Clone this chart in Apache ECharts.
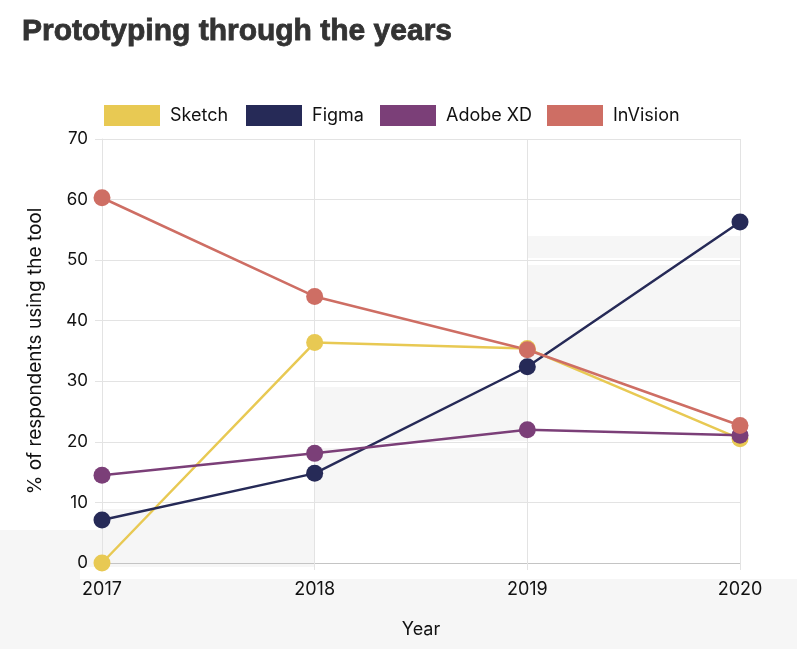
<!DOCTYPE html>
<html>
<head>
<meta charset="utf-8">
<script src="https://cdn.jsdelivr.net/npm/echarts@6/dist/echarts.min.js"></script>
<style>
html,body{margin:0;padding:0;background:#fff;}
#chart{width:797px;height:649px;}
</style>
</head>
<body>
<div id="chart"></div>
<script>
const years = ['2017', '2018', '2019', '2020'];
const seriesNames = ['Sketch', 'Figma', 'Adobe XD', 'InVision'];
const sketch = [0, 36.4, 35.4, 20.5];
const figma = [7.1, 14.8, 32.4, 56.3];
const adobeXD = [14.5, 18.1, 22.0, 21.1];
const invision = [60.3, 44.0, 35.2, 22.7];
const yTicks = [0, 10, 20, 30, 40, 50, 60, 70];

const FONT = 'Inter';
const GRAY = '#f6f6f6';
const COLORS = ['#E8C953', '#262A57', '#7B3F78', '#CE6E64'];
const legendLefts = [104, 246, 380, 547];

// decorative background staircase (not data)
const bgRects = [
  [0, 579, 797, 70],
  [0, 530, 100, 37],
  [0, 567, 80, 12],
  [100, 509, 215, 58],
  [315, 387, 212, 54],
  [315, 448, 212, 54],
  [527, 236, 213, 22],
  [527, 265, 213, 55],
  [527, 327, 213, 53]
];

const chart = echarts.init(document.getElementById('chart'));

function mk(name, data, color) {
  return {
    name: name,
    type: 'line',
    data: data,
    symbol: 'circle',
    symbolSize: 17,
    lineStyle: { color: color, width: 2.5 },
    itemStyle: { color: color },
    emphasis: { disabled: true }
  };
}

chart.setOption({
  animation: false,
  backgroundColor: '#ffffff',
  title: {
    text: 'Prototyping through the years',
    left: 17,
    top: 12,
    textStyle: {
      fontFamily: 'Liberation Sans',
      fontWeight: 'bold',
      fontSize: 30,
      color: '#333333',
      textBorderColor: '#333333',
      textBorderWidth: 0.8
    }
  },
  graphic: bgRects.map(r => ({
    type: 'rect',
    z: -100,
    silent: true,
    shape: { x: r[0], y: r[1], width: r[2], height: r[3] },
    style: { fill: GRAY }
  })),
  legend: seriesNames.map((n, i) => ({
    left: legendLefts[i],
    top: 105,
    padding: 0,
    icon: 'rect',
    itemWidth: 56,
    itemHeight: 21,
    textStyle: {
      fontFamily: FONT,
      fontSize: 18,
      color: '#111111',
      padding: [0, 0, 0, 5]
    },
    data: [n]
  })),
  grid: {
    left: 102,
    right: 57,
    top: 139,
    bottom: 86,
    containLabel: false
  },
  xAxis: {
    type: 'category',
    data: years,
    boundaryGap: false,
    name: 'Year',
    nameLocation: 'middle',
    nameGap: 58,
    nameTextStyle: { fontFamily: FONT, fontSize: 18, color: '#111111' },
    axisLine: { lineStyle: { color: '#c4c4c4', width: 1 } },
    axisTick: { show: true, length: 7, lineStyle: { color: '#e3e3e3' } },
    axisLabel: { fontFamily: FONT, fontSize: 18, color: '#111111', margin: 18 },
    splitLine: { show: true, lineStyle: { color: '#e3e3e3', width: 1 } }
  },
  yAxis: {
    type: 'value',
    min: yTicks[0],
    max: yTicks[yTicks.length - 1],
    interval: 10,
    name: '% of respondents using the tool',
    nameLocation: 'middle',
    nameGap: 57,
    nameTextStyle: { fontFamily: FONT, fontSize: 19, color: '#111111' },
    axisLine: { show: true, lineStyle: { color: '#e3e3e3', width: 1 } },
    axisTick: { show: true, length: 7, lineStyle: { color: '#e3e3e3' } },
    axisLabel: { fontFamily: FONT, fontSize: 17, color: '#111111', margin: 14 },
    splitLine: { show: true, lineStyle: { color: '#e3e3e3', width: 1 } }
  },
  series: [
    mk(seriesNames[0], sketch, COLORS[0]),
    mk(seriesNames[1], figma, COLORS[1]),
    mk(seriesNames[2], adobeXD, COLORS[2]),
    mk(seriesNames[3], invision, COLORS[3])
  ]
});
</script>
</body>
</html>
